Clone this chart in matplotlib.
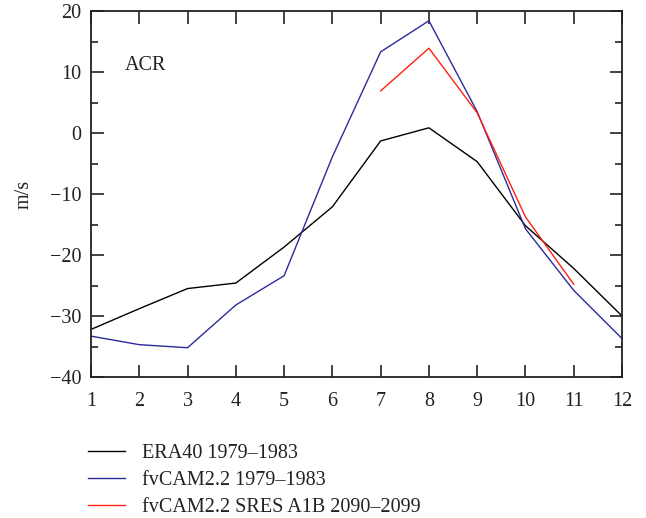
import matplotlib
matplotlib.use("Agg")
import matplotlib.pyplot as plt
from matplotlib.ticker import MultipleLocator

months = [1, 2, 3, 4, 5, 6, 7, 8, 9, 10, 11, 12]
era40 = [-32.2, -28.8, -25.5, -24.6, -18.7, -12.1, -1.3, 0.85, -4.7, -15.2, -22.2, -30.0]
fvcam = [-33.3, -34.7, -35.2, -28.2, -23.4, -3.9, 13.3, 18.4, 3.5, -15.7, -25.8, -33.7]
sres_months = [7, 8, 9, 10, 11]
sres = [6.9, 13.9, 3.3, -13.75, -24.8]
labels = ["ERA40 1979–1983", "fvCAM2.2 1979–1983", "fvCAM2.2 SRES A1B 2090–2099"]

plt.rcParams['font.family'] = ['Liberation Serif', 'DejaVu Serif']
plt.rcParams['font.size'] = 14.5

fig = plt.figure(figsize=(6.46, 5.18), dpi=100)
ax = fig.add_axes([91/646, 1 - 377/518, (622 - 91)/646, (377 - 11)/518])

l1, = ax.plot(months, era40, color='black', lw=1.0)
l2, = ax.plot(months, fvcam, color='#2b2b9c', lw=1.0)
l3, = ax.plot(sres_months, sres, color='#ff2010', lw=1.0)

ax.set_xlim(1, 12)
ax.set_ylim(-40, 20)
ax.xaxis.set_major_locator(MultipleLocator(1))
ax.yaxis.set_major_locator(MultipleLocator(10))
ax.yaxis.set_minor_locator(MultipleLocator(5))
ax.tick_params(which='both', direction='in', top=True, right=True, colors='#222222', labelcolor='#222222')
ax.tick_params(which='major', length=9, width=1.2)
ax.tick_params(axis='x', which='major', pad=11)
ax.tick_params(axis='y', which='major', pad=7)
ax.tick_params(which='minor', length=5, width=1.2)
ax.tick_params(axis='x', which='minor', bottom=False, top=False)
for s in ax.spines.values():
    s.set_linewidth(1.3)
    s.set_color('#222222')

ax.set_ylabel('m/s', color='#222222', labelpad=12)
ax.text(0.064, 0.852, 'ACR', transform=ax.transAxes, ha='left', va='center', color='#222222')

fig.legend([l1, l2, l3], labels, loc='upper left', bbox_to_anchor=(88/646, 1 - 444/518),
           frameon=False, borderpad=0, borderaxespad=0, handlelength=1.85,
           handletextpad=0.85, labelspacing=0.38, labelcolor='#222222')

fig.savefig('out.png', dpi=100)
